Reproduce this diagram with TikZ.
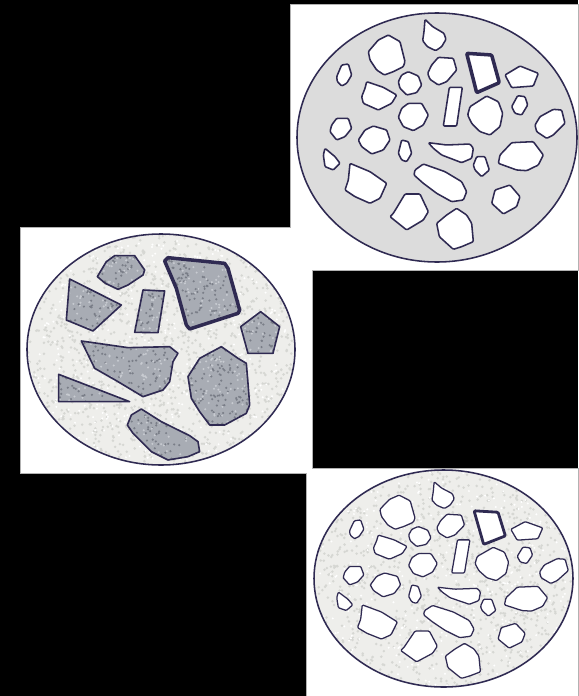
\documentclass[tikz,border=0pt]{standalone}
\usepackage{tikz}

\definecolor{inkline}{HTML}{2F2A52}
\definecolor{paste}{HTML}{DCDCDC}
\definecolor{mortar}{HTML}{EEEEEB}
\definecolor{grit}{HTML}{D6D7D3}
\definecolor{rock}{HTML}{A8ACB4}
\definecolor{rockdark}{HTML}{7A7E88}
\definecolor{rocklight}{HTML}{C8CBD1}

\tikzset{
  disc/.style={draw=inkline, line width=2.2pt},
  pebble/.style={draw=inkline, fill=white, line width=2.2pt, line join=round, rounded corners=1.5pt},
  keystone/.style={pebble, line width=5pt}
}

% stones of the upper and lower discs
\newcommand{\pebbles}{%
  \draw[pebble] (405,58) -- (428,80) -- (462,100) -- (468,118) -- (455,140) -- (437,152) -- (412,140) -- (398,122) -- (402,95) -- cycle;
  \draw[pebble] (265,120) -- (295,105) -- (330,125) -- (345,185) -- (340,200) -- (310,215) -- (283,225) -- (260,210) -- (240,180) -- (235,155) -- cycle;
  \draw[pebble] (155,195) -- (175,192) -- (185,225) -- (170,250) -- (155,258) -- (142,245) -- (140,230) -- cycle;
  \draw[pebble] (335,225) -- (355,215) -- (385,228) -- (395,255) -- (380,278) -- (350,285) -- (330,265) -- (325,245) -- cycle;
  \draw[pebble] (425,195) -- (445,172) -- (490,175) -- (500,210) -- (470,245) -- (445,255) -- (420,238) -- (413,220) -- cycle;
  \draw[pebble] (645,225) -- (690,198) -- (745,220) -- (730,258) -- (665,263) -- cycle;
  \draw[pebble] (230,245) -- (280,262) -- (320,285) -- (305,310) -- (265,330) -- (220,310) -- (215,290) -- (225,265) -- cycle;
  \draw[pebble] (478,262) -- (517,262) -- (500,378) -- (460,378) -- cycle;
  \draw[pebble] (683,287) -- (705,290) -- (713,315) -- (695,345) -- (675,340) -- (665,320) -- cycle;
  \draw[pebble] (540,320) -- (590,288) -- (625,305) -- (638,340) -- (630,380) -- (600,405) -- (570,395) -- (545,370) -- (533,345) -- cycle;
  \draw[pebble] (355,310) -- (395,310) -- (415,345) -- (400,375) -- (370,392) -- (340,380) -- (325,352) -- (335,325) -- cycle;
  \draw[pebble] (750,350) -- (790,328) -- (815,330) -- (825,370) -- (790,405) -- (770,415) -- (740,395) -- (735,375) -- cycle;
  \draw[pebble] (140,355) -- (175,355) -- (185,385) -- (165,410) -- (140,420) -- (120,395) -- (125,375) -- cycle;
  \draw[pebble] (225,390) -- (250,378) -- (290,390) -- (300,420) -- (280,450) -- (245,462) -- (215,440) -- (205,420) -- cycle;
  \draw[pebble] (335,420) -- (355,425) -- (365,460) -- (350,485) -- (335,480) -- (325,460) -- cycle;
  \draw[pebble] (415,428) -- (470,435) -- (540,432) -- (550,445) -- (545,475) -- (515,488) -- (455,465) -- (430,445) -- cycle;
  \draw[pebble] (630,465) -- (665,428) -- (730,425) -- (760,465) -- (745,495) -- (710,512) -- (680,510) -- (625,490) -- cycle;
  \draw[pebble] (105,445) -- (135,470) -- (150,490) -- (130,510) -- (105,500) -- (100,465) -- cycle;
  \draw[pebble] (560,470) -- (585,470) -- (598,510) -- (575,530) -- (555,510) -- (550,495) -- cycle;
  \draw[pebble] (180,490) -- (240,515) -- (290,550) -- (270,595) -- (240,610) -- (195,590) -- (165,570) -- (175,540) -- cycle;
  \draw[pebble] (375,510) -- (400,492) -- (465,515) -- (515,545) -- (530,575) -- (520,600) -- (485,605) -- (440,580) -- (400,550) -- (372,525) -- cycle;
  \draw[pebble] (615,570) -- (660,555) -- (690,590) -- (680,620) -- (640,642) -- (605,610) -- cycle;
  \draw[pebble] (310,640) -- (345,582) -- (390,582) -- (415,635) -- (400,660) -- (350,690) -- (300,650) -- cycle;
  \draw[pebble] (440,670) -- (470,645) -- (500,625) -- (530,645) -- (545,670) -- (550,725) -- (515,740) -- (490,748) -- (470,730) -- (448,710) -- cycle;
  \draw[keystone] (530,160) -- (605,165) -- (628,248) -- (560,278) -- cycle;
}

% stones of the middle disc (one path)
\def\rockset{(238,155) -- (265,110) -- (290,92) -- (350,92) -- (380,135) -- (375,150) -- (330,180) -- (300,193) -- (262,175) -- cycle
  (155,162) -- (310,240) -- (225,318) -- (145,285) -- cycle
  (375,195) -- (440,198) -- (420,323) -- (350,322) -- cycle
  (668,305) -- (728,260) -- (785,305) -- (765,385) -- (690,385) -- cycle
  (190,348) -- (330,368) -- (455,365) -- (480,385) -- (465,410) -- (455,470) -- (435,495) -- (375,515) -- (300,470) -- (230,430) -- cycle
  (510,455) -- (545,400) -- (610,365) -- (660,400) -- (685,415) -- (690,475) -- (695,540) -- (685,565) -- (620,600) -- (575,600) -- (545,560) -- (520,520) -- cycle
  (122,448) -- (335,530) -- (122,530) -- cycle
  (340,570) -- (370,552) -- (430,590) -- (515,632) -- (540,650) -- (545,680) -- (510,695) -- (450,705) -- (400,680) -- (345,625) -- (328,600) -- cycle
  (440,108) -- (450,98) -- (620,115) -- (630,130) -- (665,255) -- (660,265) -- (515,312) -- (505,300) -- (475,190) -- cycle}
\def\rockkey{(440,108) -- (450,98) -- (620,115) -- (630,130) -- (665,255) -- (660,265) -- (515,312) -- (505,300) -- (475,190) -- cycle}

\begin{document}
\begin{tikzpicture}[x=0.05cm, y=-0.05cm]
  \pgfmathsetseed{4711}
  \useasboundingbox (0,0) rectangle (578,696);
  \fill[black] (0,0) rectangle (578,696);
  \fill[white, draw=gray!60, line width=0.6pt] (290,4) -- (578,4) -- (578,270) -- (312,270) -- (312,468) -- (578,468)
    -- (578,696) -- (306,696) -- (306,473) -- (20,473) -- (20,227) -- (290,227) -- cycle;

  % upper disc
  \fill[paste] (437,137.5) ellipse [x radius=140, y radius=124.5];
  \draw[disc] (437,137.5) ellipse [x radius=140, y radius=124.5];
  \begin{scope}[shift={(290,0)}, scale=1/3]
    \pebbles
  \end{scope}

  % middle disc
  \fill[mortar] (161,349.5) ellipse [x radius=134, y radius=115.5];
  \begin{scope}
    \clip (161,349.5) ellipse [x radius=134, y radius=115.5];
    \fill[grit] \foreach \k in {1,...,1400} {({161+134*rand},{349.5+115.5*rand}) circle [radius=1.4]};
    \fill[white] \foreach \k in {1,...,500} {({161+134*rand},{349.5+115.5*rand}) circle [radius=1.1]};
  \end{scope}
  \draw[disc] (161,349.5) ellipse [x radius=134, y radius=115.5];
  \begin{scope}[shift={(18,225)}, scale=1/3]
    \fill[rock] \rockset;
    \begin{scope}
      \clip \rockset;
      \fill[rockdark] \foreach \k in {1,...,1100} {({460+340*rand},{400+310*rand}) circle [radius=3.6]};
      \fill[rocklight] \foreach \k in {1,...,700} {({460+340*rand},{400+310*rand}) circle [radius=3.4]};
    \end{scope}
    \draw[inkline, line width=2.3pt, line join=round] \rockset;
    \draw[inkline, line width=5pt, line join=round] \rockkey;
  \end{scope}

  % lower disc
  \fill[mortar] (443.5,578.5) ellipse [x radius=129.5, y radius=108.5];
  \begin{scope}
    \clip (443.5,578.5) ellipse [x radius=129.5, y radius=108.5];
    \fill[grit] \foreach \k in {1,...,1200} {({443.5+129.5*rand},{578.5+108.5*rand}) circle [radius=1.4]};
    \fill[white] \foreach \k in {1,...,450} {({443.5+129.5*rand},{578.5+108.5*rand}) circle [radius=1.1]};
  \end{scope}
  \draw[disc] (443.5,578.5) ellipse [x radius=129.5, y radius=108.5];
  \begin{scope}[shift={(304.8,465.2)}, xscale=0.3194, yscale=0.285, pebble/.style={draw=inkline, fill=white, line width=1.8pt, line join=round, rounded corners=1.5pt}, keystone/.style={pebble, line width=4pt}]
    \pebbles
  \end{scope}
\end{tikzpicture}
\end{document}
